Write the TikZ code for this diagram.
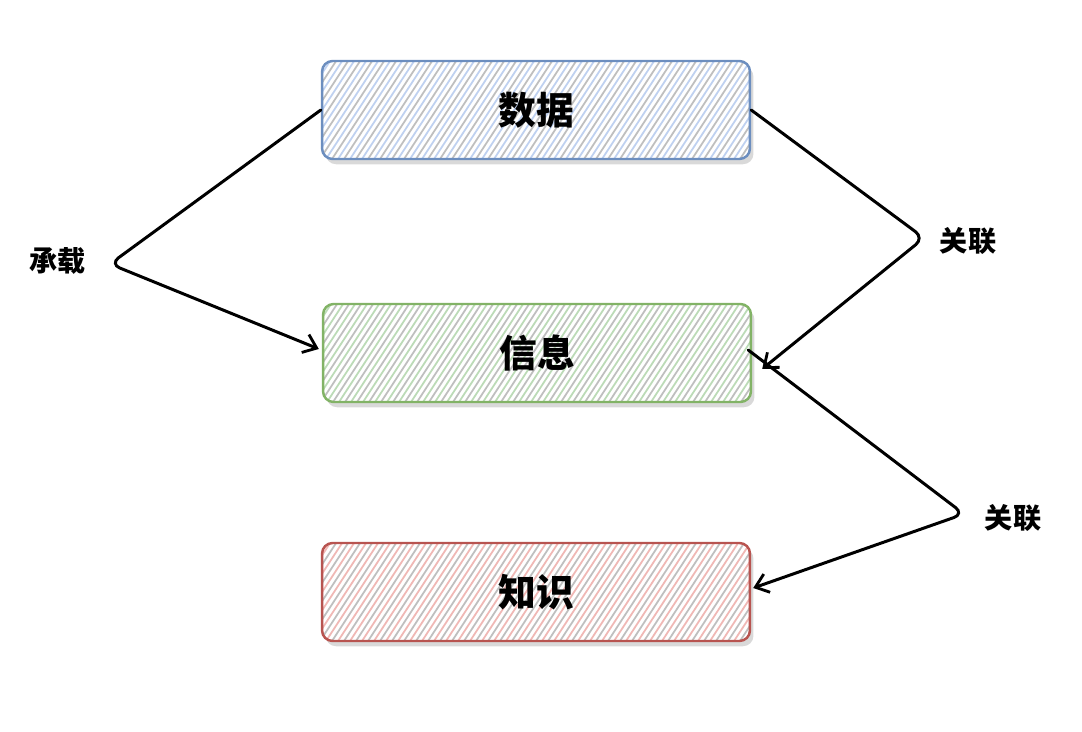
\documentclass[tikz,border=0pt]{standalone}
\usepackage{fontspec}
\usepackage{tikz}
\usetikzlibrary{calc,arrows.meta,shadows}
\newfontfamily\cjk{Noto Sans CJK SC}

\definecolor{bluefill}{HTML}{BFD1F0}
\definecolor{blueline}{HTML}{6C8EBF}
\definecolor{greenfill}{HTML}{BCDBB7}
\definecolor{greenline}{HTML}{82B366}
\definecolor{redfill}{HTML}{F0B8B5}
\definecolor{redline}{HTML}{B85450}

\tikzset{
    box/.style={draw=#1line, line width=1.4pt, rounded corners=6pt, fill=white,
        minimum width=8.56cm, minimum height=1.96cm,
        font=\cjk\bfseries\fontsize{21.5}{21.5}\selectfont,
        general shadow={fill=gray!30, shadow xshift=2pt, shadow yshift=-3pt},
        path picture={
            \foreach \k in {0,...,50}{
                \draw[gray!50, line width=1pt] ($(path picture bounding box.south west)+(\k*12-110,0)$) -- ++(68,-104);
                \draw[#1fill, line width=1pt] ($(path picture bounding box.south west)+(\k*12-104,0)$) -- ++(68,-104);
            }
        }},
    lbl/.style={font=\cjk\bfseries\fontsize{16}{16}\selectfont},
    link/.style={line width=1.7pt, rounded corners=6pt, line cap=round, line join=round},
    tip/.style={-{Straight Barb[length=7pt,width=11pt,line width=1.6pt]}}
}

\begin{document}
\begin{tikzpicture}[x=0.02cm,y=-0.02cm]
    \useasboundingbox (0,0) rectangle (1082,732);

    % boxes
    \node[box=blue]  (data) at (536,110) {数据};
    \node[box=green] (info) at (537,353) {信息};
    \node[box=red]   (know) at (536,592) {知识};

    % labels
    \node[lbl] (carry) at (58,261) {承载};
    \node[lbl] (linkA) at (968,241) {关联};
    \node[lbl] (linkB) at (1013,518) {关联};

    % bends
    \coordinate (bA) at (110,264);
    \coordinate (bB) at (924,238);
    \coordinate (bC) at (964,514);

    % connectors
    \draw[link,tip] (data.west) -- (bA) -- ($(info.west)+(-3,-4)$);
    \draw[link,tip] (data.east) -- (bB) -- ($(info.east)+(10,16)$);
    \draw[link,tip] ($(info.east)+(-4,-3)$) -- (bC) -- ($(know.east)+(2,-4)$);
\end{tikzpicture}
\end{document}
